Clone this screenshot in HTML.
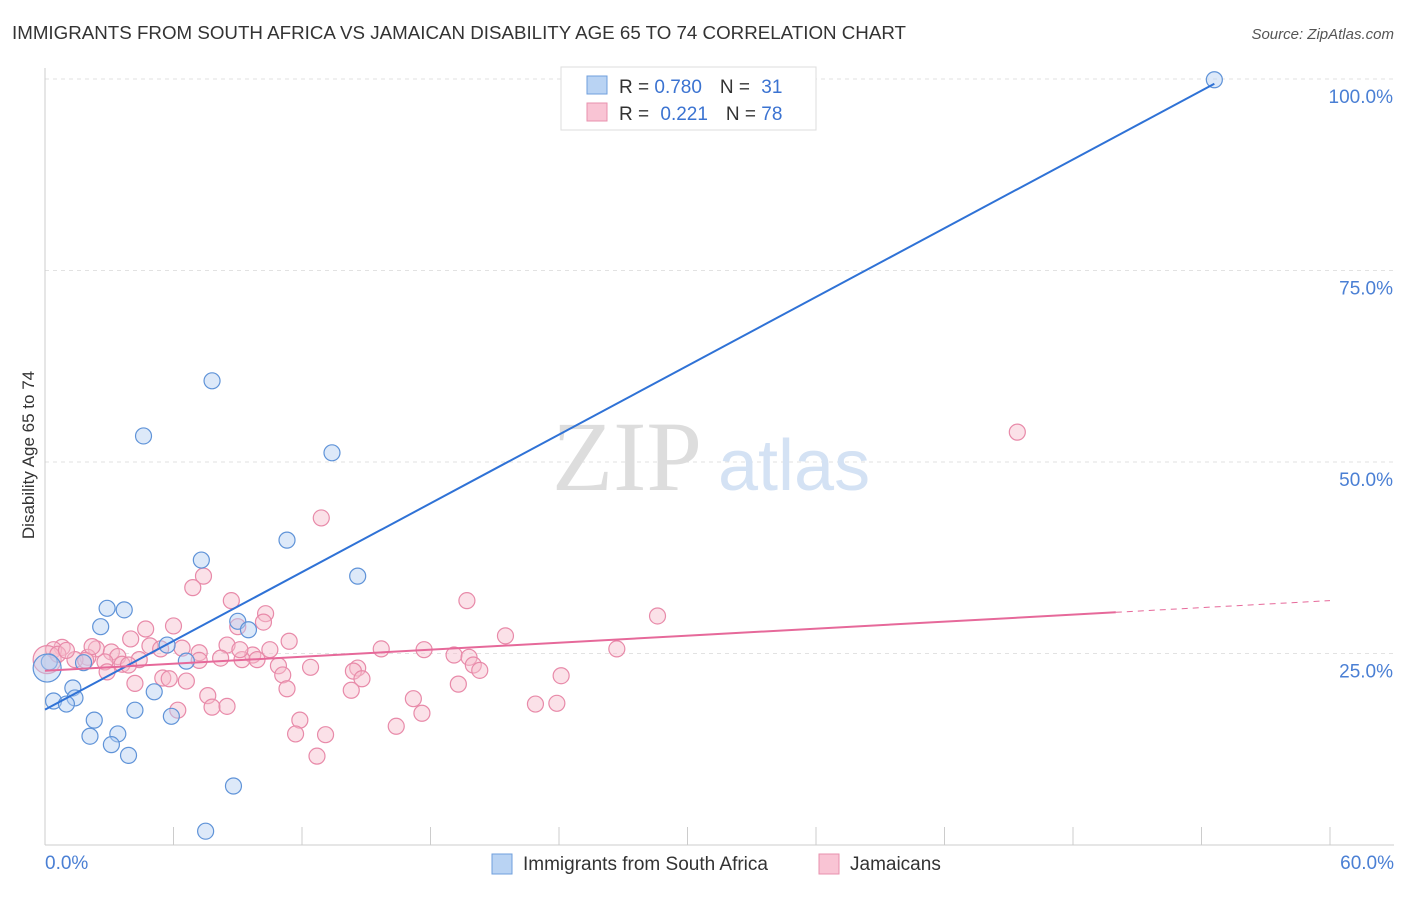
<!DOCTYPE html>
<html><head><meta charset="utf-8"><style>
body{margin:0;background:#fff;font-family:"Liberation Sans",sans-serif;}
svg text{font-family:"Liberation Sans",sans-serif;}
</style></head><body>
<svg width="1406" height="892" viewBox="0 0 1406 892" xmlns="http://www.w3.org/2000/svg">
<text x="12" y="39" font-size="18" fill="#333" textLength="894" lengthAdjust="spacingAndGlyphs">IMMIGRANTS FROM SOUTH AFRICA VS JAMAICAN DISABILITY AGE 65 TO 74 CORRELATION CHART</text>
<text x="1394" y="39" font-size="15" fill="#555" font-style="italic" text-anchor="end">Source: ZipAtlas.com</text>
<g id="grid"></g>
<text x="552" y="490" font-size="100" fill="#ddd" style="font-family:'Liberation Serif',serif">ZIP</text>
<text x="718" y="490" font-size="72" fill="#d4e2f4">atlas</text>
<g id="axes"></g>
<g id="marks"></g>
<text x="34" y="455" font-size="17" fill="#333" text-anchor="middle" transform="rotate(-90 34 455)">Disability Age 65 to 74</text>
<text x="45" y="869" font-size="19" fill="#4a7fd4">0.0%</text>
<text x="1394" y="869" font-size="19" fill="#4a7fd4" text-anchor="end">60.0%</text>
<g>
<rect x="561" y="67" width="255" height="63" fill="#fff" stroke="#ddd"/>
<rect x="587" y="76" width="20" height="18" fill="#b9d3f3" stroke="#6f9fdc"/>
<rect x="587" y="103" width="20" height="18" fill="#f9c4d4" stroke="#e891ae"/>
<text x="619" y="93" font-size="19" fill="#333">R = <tspan fill="#3b73d1">0.780</tspan><tspan dx="18">N = </tspan><tspan fill="#3b73d1" dx="6">31</tspan></text>
<text x="619" y="120" font-size="19" fill="#333">R = <tspan fill="#3b73d1" dx="6">0.221</tspan><tspan dx="18">N = </tspan><tspan fill="#3b73d1">78</tspan></text>
</g>
<g>
<rect x="492" y="854" width="20" height="20" fill="#b9d3f3" stroke="#6f9fdc"/>
<text x="523" y="870" font-size="19" fill="#333">Immigrants from South Africa</text>
<rect x="819" y="854" width="20" height="20" fill="#f9c4d4" stroke="#e891ae"/>
<text x="850" y="870" font-size="19" fill="#333">Jamaicans</text>
</g>
</svg>
<script>
const yTicks=[25,50,75,100];
const yTickLabels=["25.0%","50.0%","75.0%","100.0%"];
const xTicks=[0,6,12,18,24,30,36,42,48,54,60];
const blueX=[54.6,7.8,4.6,13.4,11.3,7.3,14.6,2.9,3.7,9.0,9.5,2.6,5.7,6.6,0.2,1.8,1.3,5.1,1.4,0.4,1.0,4.2,5.9,2.3,3.4,2.1,3.1,3.9,8.8,7.5,0.1];
const blueY=[99.9,60.6,53.4,51.2,39.8,37.2,35.1,30.9,30.7,29.2,28.1,28.5,26.1,24.0,23.9,23.8,20.5,20.0,19.2,18.8,18.4,17.6,16.8,16.3,14.5,14.2,13.1,11.7,7.7,1.8,23.1];
const pinkX=[45.4,12.9,7.4,6.9,8.7,19.7,28.6,10.3,10.2,6.0,4.7,9.0,21.5,4.0,11.4,8.5,4.9,6.4,15.7,17.7,26.7,10.5,2.4,0.8,0.4,3.1,7.2,9.7,19.1,3.4,2.0,19.8,8.2,9.2,9.9,1.4,4.4,2.8,3.6,10.9,20.0,12.4,14.6,20.3,14.4,2.9,11.1,24.1,5.5,5.8,14.8,6.6,4.2,19.3,11.3,14.3,7.6,17.2,22.9,23.9,7.8,8.5,6.2,17.6,11.9,16.4,11.7,13.1,12.7,0.1,1.9,0.6,3.9,5.4,7.2,9.1,1.0,2.2];
const pinkY=[53.9,42.7,35.1,33.6,31.9,31.9,29.9,30.2,29.1,28.6,28.2,28.5,27.3,26.9,26.6,26.1,26.0,25.7,25.6,25.5,25.6,25.5,25.6,25.8,25.5,25.2,25.1,24.8,24.8,24.6,24.5,24.5,24.4,24.2,24.2,24.2,24.2,23.9,23.6,23.4,23.5,23.2,23.1,22.8,22.7,22.6,22.2,22.1,21.8,21.7,21.7,21.4,21.1,21.0,20.4,20.2,19.5,19.1,18.4,18.5,18.0,18.1,17.6,17.2,16.3,15.5,14.5,14.4,11.6,24.2,24.1,24.9,23.5,25.6,24.1,25.5,25.4,25.9];
const NS="http://www.w3.org/2000/svg";
const X0=45,X1=1330,Y0=845,Y100=79;
const xs=v=>X0+(v/60)*(X1-X0);
const ys=v=>Y0-(v/100)*(Y0-Y100);
function mk(t,a,p){const e=document.createElementNS(NS,t);for(const k in a)e.setAttribute(k,a[k]);p.appendChild(e);return e;}
const grid=document.getElementById('grid'),axes=document.getElementById('axes'),marks=document.getElementById('marks');
yTicks.forEach((t,i)=>{
 const l=mk('line',{x1:X0,x2:1394,y1:ys(t),y2:ys(t),stroke:'#e2e2e2','stroke-dasharray':'4 4'},grid);
 
 
 const tx=mk('text',{x:1393,y:ys(t)+24,'font-size':19,fill:'#4a7fd4','text-anchor':'end'},axes);
 tx.textContent=yTickLabels[i];
 
 
});
const ax=mk('line',{x1:X0,x2:1394,y1:Y0,y2:Y0,stroke:'#ccc'},axes);


const ay=mk('line',{x1:X0,x2:X0,y1:68,y2:Y0,stroke:'#ccc'},axes);


xTicks.forEach(t=>{const l=mk('line',{x1:xs(t),x2:xs(t),y1:Y0,y2:Y0-18,stroke:'#ccc'},axes);
 
 });
function fit(X,Y){const n=X.length;let mx=0,my=0;for(let i=0;i<n;i++){mx+=X[i];my+=Y[i];}mx/=n;my/=n;let sxy=0,sxx=0;for(let i=0;i<n;i++){sxy+=(X[i]-mx)*(Y[i]-my);sxx+=(X[i]-mx)**2;}const b=sxy/sxx;return [my-b*mx,b];}
function pts(X,Y,fill,stroke,name){X.forEach((x,i)=>{const big=(x<0.3&&i===X.length-1)||(name==='pink-point'&&i===69);
 const c=mk('circle',{cx:xs(x),cy:ys(Y[i]),r:big?14:8,fill:fill,'fill-opacity':0.45,stroke:stroke,'stroke-width':1.2},marks);
 
 });}
pts(pinkX,pinkY,'#f7bccd','#e88aa9','pink-point');
pts(blueX,blueY,'#b3cff2','#5f93d8','blue-point');
const [ba,bb]=fit(blueX,blueY);
const bl=mk('line',{x1:xs(0),y1:ys(ba),x2:xs(54.6),y2:ys(ba+bb*54.6),stroke:'#2f72d6','stroke-width':2},marks);


const [pa,pb]=fit(pinkX,pinkY);
const pl=mk('line',{x1:xs(0),y1:ys(pa),x2:xs(50),y2:ys(pa+pb*50),stroke:'#e6699a','stroke-width':2},marks);


const pd=mk('line',{x1:xs(50),y1:ys(pa+pb*50),x2:xs(60),y2:ys(pa+pb*60),stroke:'#e6699a','stroke-width':1,'stroke-dasharray':'6 5'},marks);


</script>
</body></html>
